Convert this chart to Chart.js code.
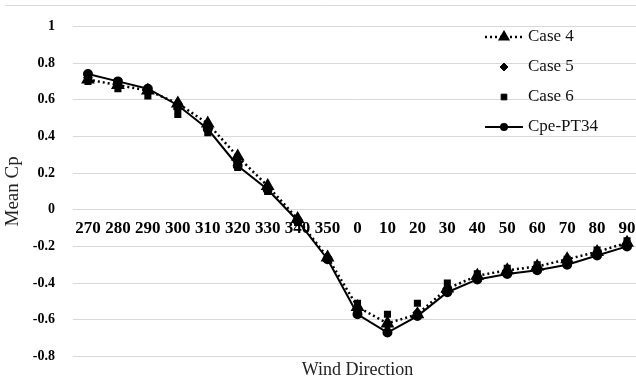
<!DOCTYPE html>
<html>
<head>
<meta charset="utf-8">
<script src="https://cdn.jsdelivr.net/npm/chart.js@4/dist/chart.umd.min.js"></script>
<style>
  html, body { margin: 0; padding: 0; background: #fff; overflow: hidden; }
  #wrap { width: 650px; height: 383px; }
</style>
</head>
<body>
<div id="wrap"><canvas id="cpChart" width="650" height="383"></canvas></div>
<script>
// wind direction categories (deg)
const categories = ['270', '280', '290', '300', '310', '320', '330', '340', '350', '0',
  '10', '20', '30', '40', '50', '60', '70', '80', '90'];

const case4 = [0.71, 0.68, 0.65, 0.58, 0.47, 0.29, 0.13, -0.05, -0.26, -0.53,
  -0.62, -0.57, -0.43, -0.36, -0.33, -0.31, -0.27, -0.23, -0.18];
const case5 = [0.72, 0.68, 0.64, 0.55, 0.44, 0.26, 0.11, -0.06, -0.27, -0.55,
  -0.63, -0.56, -0.43, -0.37, -0.34, -0.32, -0.29, -0.24, -0.19];
const case6 = [0.70, 0.66, 0.62, 0.52, 0.42, 0.23, 0.10, -0.07, -0.27, -0.51,
  -0.57, -0.51, -0.40, -0.35, -0.32, -0.30, -0.27, -0.22, -0.17];
const cpePT34 = [0.74, 0.70, 0.66, 0.57, 0.44, 0.24, 0.11, -0.06, -0.27, -0.57,
  -0.67, -0.58, -0.45, -0.38, -0.35, -0.33, -0.30, -0.25, -0.20];

const yTicks = { min: -0.8, max: 1, step: 0.2 };

const serif = "'Liberation Serif', 'Times New Roman', serif";

// legend drawn inside the plot, top right
const insideLegend = {
  id: 'insideLegend',
  afterDraw(chart) {
    const ctx = chart.ctx;
    const h = Chart.helpers;
    chart.data.datasets.forEach((ds, i) => {
      const y = 37 + i * 30;
      const x0 = 485, x1 = 523, xm = 504;
      ctx.save();
      if (ds.showLine !== false) {
        ctx.strokeStyle = ds.borderColor;
        ctx.lineWidth = ds.borderWidth;
        ctx.setLineDash(ds.borderDash || []);
        ctx.beginPath();
        ctx.moveTo(x0, y);
        ctx.lineTo(x1, y);
        ctx.stroke();
      }
      ctx.setLineDash([]);
      ctx.fillStyle = ds.pointBackgroundColor;
      ctx.strokeStyle = ds.pointBorderColor;
      h.drawPoint(ctx, { pointStyle: ds.pointStyle, radius: ds.pointRadius - 1, rotation: 0, borderWidth: 1 }, xm, y);
      ctx.fillStyle = '#111';
      ctx.font = '17px ' + serif;
      ctx.textBaseline = 'middle';
      ctx.textAlign = 'left';
      ctx.fillText(ds.label, 528, y);
      ctx.restore();
    });
  }
};

// thin outline at the top of the chart box
const topBorder = {
  id: 'topBorder',
  beforeDraw(chart) {
    const ctx = chart.ctx;
    ctx.save();
    ctx.strokeStyle = '#d9d9d9';
    ctx.lineWidth = 1;
    ctx.beginPath();
    ctx.moveTo(5, 5.5);
    ctx.lineTo(chart.width, 5.5);
    ctx.stroke();
    ctx.restore();
  }
};

new Chart(document.getElementById('cpChart').getContext('2d'), {
  type: 'line',
  data: {
    labels: categories,
    datasets: [
      {
        label: 'Case 4', data: case4,
        borderColor: '#000', borderWidth: 2.5, borderDash: [2, 3],
        pointStyle: 'triangle', pointRadius: 5.5,
        pointBackgroundColor: '#000', pointBorderColor: '#000'
      },
      {
        label: 'Case 5', data: case5, showLine: false,
        borderColor: '#000', borderWidth: 0,
        pointStyle: 'rectRot', pointRadius: 5,
        pointBackgroundColor: '#000', pointBorderColor: '#000'
      },
      {
        label: 'Case 6', data: case6, showLine: false,
        borderColor: '#000', borderWidth: 0,
        pointStyle: 'rect', pointRadius: 5,
        pointBackgroundColor: '#000', pointBorderColor: '#000'
      },
      {
        label: 'Cpe-PT34', data: cpePT34,
        borderColor: '#000', borderWidth: 2,
        pointStyle: 'circle', pointRadius: 4,
        pointBackgroundColor: '#000', pointBorderColor: '#000'
      }
    ]
  },
  options: {
    responsive: false,
    animation: false,
    layout: { padding: { top: 24, right: 3, bottom: 0, left: 0 } },
    plugins: {
      legend: { display: false },
      tooltip: { enabled: false },
      title: {
        display: true,
        position: 'bottom',
        fullSize: false,
        text: 'Wind Direction',
        color: '#222',
        font: { family: serif, size: 18, weight: 'normal' },
        padding: { top: 3, bottom: 2 }
      }
    },
    scales: {
      x: {
        type: 'category',
        position: { y: 0 },
        offset: true,
        grid: { display: false, drawTicks: false },
        border: { display: false },
        ticks: {
          autoSkip: false, maxRotation: 0, padding: 9,
          color: '#000',
          font: { family: serif, size: 17, weight: 'bold' }
        },
        afterFit(s) { s.height = 0; }
      },
      y: {
        min: yTicks.min,
        max: yTicks.max,
        grid: { color: '#d9d9d9', lineWidth: 1, drawTicks: false },
        border: { display: false },
        ticks: {
          stepSize: yTicks.step,
          padding: 18,
          color: '#000',
          font: { family: serif, size: 14, weight: 'bold' },
          callback: v => String(+v.toFixed(1))
        },
        title: {
          display: true,
          text: 'Mean Cp',
          color: '#222',
          font: { family: serif, size: 19, weight: 'normal' },
          padding: { top: 2, bottom: 2 }
        },
        afterFit(s) { s.width = 73; }
      }
    }
  },
  plugins: [insideLegend, topBorder]
});
</script>
</body>
</html>
